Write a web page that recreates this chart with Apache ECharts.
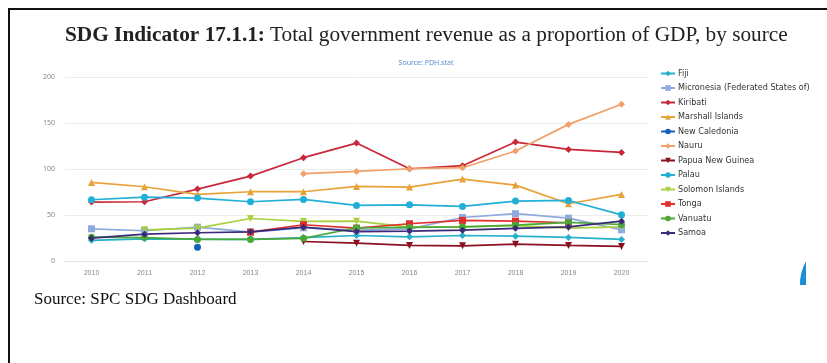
<!DOCTYPE html>
<html>
<head>
<meta charset="utf-8">
<script src="https://cdn.jsdelivr.net/npm/echarts@6/dist/echarts.min.js"></script>
<style>
  html, body { margin: 0; padding: 0; background: #fff; }
  #main { width: 827px; height: 363px; }
</style>
</head>
<body>
<div id="main"></div>
<script>
// years on the x axis
var years = ['2010', '2011', '2012', '2013', '2014', '2015', '2016', '2017', '2018', '2019', '2020'];
var yTicks = [0, 50, 100, 150, 200];

// values (% of GDP)
var fiji        = [22.5, 24.1, 23.8, 23.6, 25.5, 27.7, 26.3, 27.7, 27.0, 25.6, 23.4];
var micronesia  = [35.0, 32.9, 36.8, 31.4, 36.1, 33.5, 35.0, 47.3, 51.4, 46.6, 33.9];
var kiribati    = [64.0, 64.4, 78.2, 92.3, 112.3, 128.2, 100.3, 103.6, 129.3, 121.3, 118.0];
var marshall    = [85.4, 80.7, 72.4, 75.3, 75.3, 81.1, 80.3, 89.0, 82.5, 62.2, 72.4];
var newCaledonia= [null, null, 15.0, null, null, null, null, null, null, null, null];
var nauru       = [null, null, null, null, 94.9, 97.4, 100.3, 101.4, 119.5, 148.5, 170.3];
var png         = [null, null, null, null, 21.2, 19.4, 16.9, 16.5, 18.3, 16.9, 15.8];
var palau       = [66.6, 69.4, 68.4, 64.4, 66.9, 60.4, 61.1, 59.3, 65.1, 65.8, 50.2];
var solomon     = [null, 33.9, 35.7, 46.2, 43.0, 43.3, 36.8, 37.0, 38.5, 35.7, 37.0];
var tonga       = [null, null, null, 31.4, 39.4, 35.7, 40.5, 44.1, 43.3, 41.6, null];
var vanuatu     = [25.9, 25.5, 23.4, 23.4, 24.6, 36.1, 36.5, 37.0, 39.0, 42.0, 39.7];
var samoa       = [24.8, 29.2, 30.7, 31.7, 36.8, 32.0, 32.5, 33.5, 35.5, 37.0, 43.3];

var names = ['Fiji', 'Micronesia (Federated States of)', 'Kiribati', 'Marshall Islands', 'New Caledonia',
    'Nauru', 'Papua New Guinea', 'Palau', 'Solomon Islands', 'Tonga', 'Vanuatu', 'Samoa'];
var values = [fiji, micronesia, kiribati, marshall, newCaledonia, nauru, png, palau, solomon, tonga, vanuatu, samoa];
var colors = ['#27b1c9', '#8eaadf', '#c8283a', '#e8a23a', '#1560b8', '#f0a068', '#8b1020',
    '#22afd6', '#a8d040', '#e0302e', '#4aa838', '#3a2a78'];
var symbols = ['diamond', 'rect', 'diamond', 'triangle', 'circle', 'diamond', 'path://M0,0 L10,0 L5,10 Z',
    'circle', 'path://M0,0 L10,0 L5,10 Z', 'rect', 'circle', 'diamond'];

var series = [];
for (var i = 0; i < names.length; i++) {
    series.push({
        name: names[i],
        type: 'line',
        data: values[i],
        symbol: symbols[i],
        symbolSize: 7,
        showSymbol: true,
        connectNulls: false,
        lineStyle: { width: 1.7, color: colors[i] },
        itemStyle: { color: colors[i] }
    });
}

var chart = echarts.init(document.getElementById('main'));
var option = {
    animation: false,
    color: colors,
    title: [
        {
            text: '{b|SDG Indicator 17.1.1:} {n|Total government revenue as a proportion of GDP, by source}',
            left: 60,
            top: 20,
            textStyle: {
                rich: {
                    b: { fontFamily: 'Liberation Serif', fontWeight: 'bold', fontSize: 21.3, color: '#222' },
                    n: { fontFamily: 'Liberation Serif', fontWeight: 'normal', fontSize: 21.3, color: '#222' }
                }
            }
        },
        {
            text: 'Source: PDH.stat',
            left: 421,
            top: 54,
            textAlign: 'center',
            textStyle: { fontFamily: 'Noto Sans', fontSize: 7, fontWeight: 'normal', color: '#5a8fd2' }
        },
        {
            text: 'Source: SPC SDG Dashboard',
            left: 29,
            top: 286,
            textStyle: { fontFamily: 'Liberation Serif', fontSize: 17, fontWeight: 'normal', color: '#111' }
        }
    ],
    legend: {
        orient: 'vertical',
        left: 655,
        top: 64,
        itemGap: 5.5,
        itemWidth: 14,
        itemHeight: 7,
        textStyle: { fontFamily: 'Liberation Sans Narrow, DejaVu Sans Condensed, sans-serif', fontSize: 9, color: '#333', padding: [0, 0, 0, -2] },
        data: names
    },
    grid: { left: 65, right: 179, top: 77, bottom: 102 },
    xAxis: {
        type: 'category',
        data: years,
        boundaryGap: true,
        axisLine: { show: true, lineStyle: { color: '#e3e3e3' } },
        axisTick: { show: false },
        axisLabel: { color: '#888', fontSize: 7, fontFamily: 'Liberation Sans Narrow, sans-serif', margin: 9 }
    },
    yAxis: {
        type: 'value',
        min: yTicks[0],
        max: yTicks[yTicks.length - 1],
        interval: 50,
        axisLine: { show: false },
        axisTick: { show: false },
        splitLine: { lineStyle: { color: '#ececec' } },
        axisLabel: { color: '#888', fontSize: 7, fontFamily: 'Noto Sans', margin: 10 }
    },
    graphic: [
        { type: 'line', shape: { x1: 8, y1: 9, x2: 827, y2: 9 }, style: { stroke: '#111', lineWidth: 2 } },
        { type: 'line', shape: { x1: 9, y1: 8, x2: 9, y2: 363 }, style: { stroke: '#111', lineWidth: 2 } },
        { type: 'circle', shape: { cx: 846, cy: 284, r: 46 }, style: { fill: '#1a8fd6' }, z: 10 },
        { type: 'rect', shape: { x: 806, y: 230, width: 30, height: 110 }, style: { fill: '#fff' }, z: 11 },
        { type: 'rect', shape: { x: 790, y: 285, width: 40, height: 50 }, style: { fill: '#fff' }, z: 11 }
    ],
    series: series
};
chart.setOption(option);
</script>
</body>
</html>
